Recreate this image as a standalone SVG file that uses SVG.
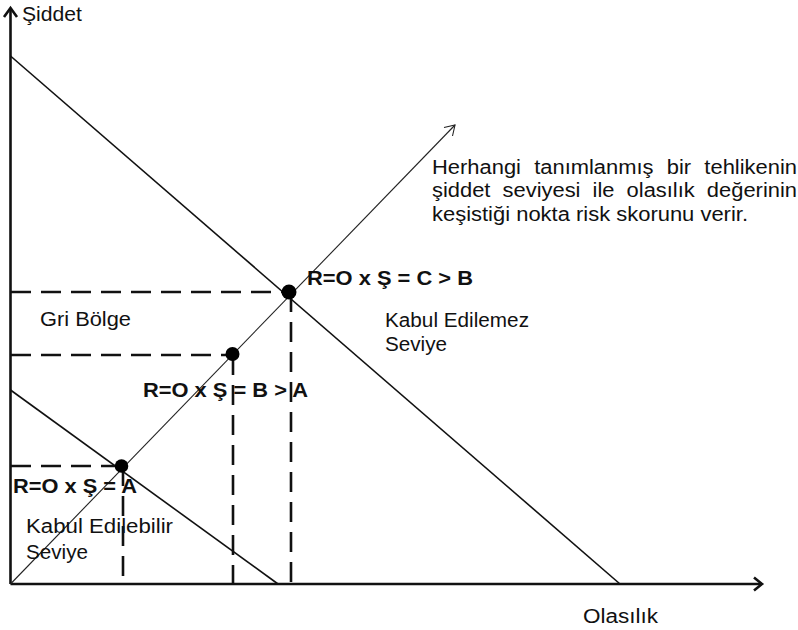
<svg xmlns="http://www.w3.org/2000/svg" width="798" height="630" viewBox="0 0 798 630">
<style>
text{font-family:"Liberation Sans",Arial,sans-serif;font-size:20px;fill:#111}
.b{font-weight:bold}
.axis{stroke:#111;stroke-width:2.6;fill:none}
.line{stroke:#111;stroke-width:1.6;fill:none}
.thin{stroke:#222;stroke-width:1.1;fill:none}
.dash{stroke:#111;stroke-width:2.6;fill:none;stroke-dasharray:20 10}
.dot{fill:#000}
</style>
<rect width="798" height="630" fill="#fff"/>
<g id="connectors">
<path class="axis" d="M10.5 584 V9"/>
<path class="axis" d="M4 17 L10.5 8 L17 17"/>
<path class="axis" d="M10.5 584 H762"/>
<path class="axis" d="M754 577.5 L762 584 L754 590.5"/>
<path class="line" d="M10.5 56 L620 584"/>
<path class="line" d="M10.5 390 L278 584"/>
<path class="thin" d="M10.5 584 L455 125"/>
<path class="thin" d="M444 127.5 L455 125 L452.5 136"/>
<path class="dash" d="M11 292 H289"/>
<path class="dash" d="M11 355 H232"/>
<path class="dash" d="M11 466 H121"/>
<path class="dash" d="M291 292 V584"/>
<path class="dash" d="M233 355 V584"/>
<path class="dash" d="M123 466 V584"/>
</g>
<g id="pointC"><circle class="dot" cx="289" cy="292" r="7.5"/><text class="b" x="307" y="285" textLength="166" lengthAdjust="spacingAndGlyphs">R=O x Ş = C &gt; B</text></g>
<g id="pointB"><circle class="dot" cx="232.5" cy="354" r="7"/><text class="b" x="143" y="397" textLength="165" lengthAdjust="spacingAndGlyphs">R=O x Ş = B &gt; A</text></g>
<g id="pointA"><circle class="dot" cx="121.5" cy="466" r="6.8"/><text class="b" x="13" y="493" textLength="124" lengthAdjust="spacingAndGlyphs">R=O x Ş = A</text></g>
<g id="yLabel"><text x="22" y="21" textLength="60" lengthAdjust="spacingAndGlyphs">Şiddet</text></g>
<g id="xLabel"><text x="583" y="623" textLength="75" lengthAdjust="spacingAndGlyphs">Olasılık</text></g>
<g id="griBolge"><text x="40" y="326" textLength="91" lengthAdjust="spacingAndGlyphs">Gri Bölge</text></g>
<g id="kabulEdilemez"><text x="385" y="327" textLength="144" lengthAdjust="spacingAndGlyphs">Kabul Edilemez</text><text x="385" y="351" textLength="62" lengthAdjust="spacingAndGlyphs">Seviye</text></g>
<g id="kabulEdilebilir"><text x="26" y="533" textLength="147" lengthAdjust="spacingAndGlyphs">Kabul Edilebilir</text><text x="26" y="559" textLength="62" lengthAdjust="spacingAndGlyphs">Seviye</text></g>
<g id="note">
<text x="432" y="174" style="word-spacing:6.5px" textLength="365" lengthAdjust="spacingAndGlyphs">Herhangi tanımlanmış bir tehlikenin</text>
<text x="432" y="197" style="word-spacing:5.5px" textLength="365" lengthAdjust="spacingAndGlyphs">şiddet seviyesi ile olasılık değerinin</text>
<text x="432" y="221" textLength="316" lengthAdjust="spacingAndGlyphs">keşistiği nokta risk skorunu verir.</text>
</g>
</svg>
